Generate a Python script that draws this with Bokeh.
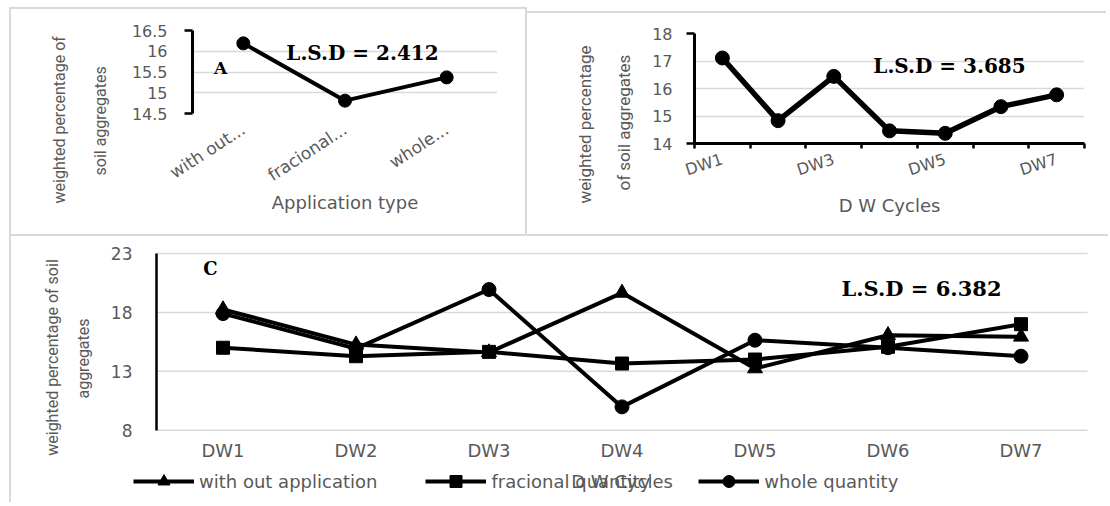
import math
from bokeh.plotting import figure
from bokeh.models import Range1d, FactorRange, FixedTicker, Label, Legend, LegendItem, Title
from bokeh.layouts import column, row
from bokeh.embed import file_html
from bokeh.resources import INLINE

# ---------------- data ----------------
# Panel A
a_categories = ["with out...", "fracional...", "whole..."]
a_values = [16.19, 14.81, 15.37]
a_yticks = [14.5, 15, 15.5, 16, 16.5]
a_lsd = "L.S.D = 2.412"

# Panel B
b_categories = ["DW1", "DW2", "DW3", "DW4", "DW5", "DW6", "DW7"]
b_values = [17.11, 14.83, 16.44, 14.46, 14.37, 15.34, 15.77]
b_yticks = [14, 15, 16, 17, 18]
b_shown = ["DW1", "DW3", "DW5", "DW7"]
b_lsd = "L.S.D = 3.685"

# Panel C
c_categories = ["DW1", "DW2", "DW3", "DW4", "DW5", "DW6", "DW7"]
c_without = [18.25, 15.27, 14.6, 19.66, 13.24, 16.06, 15.93]
c_fractional = [15.0, 14.28, 14.65, 13.66, 14.0, 15.08, 17.0]
c_whole = [17.9, 14.93, 19.94, 9.98, 15.64, 15.0, 14.28]
c_yticks = [8, 13, 18, 23]
c_series = ["with out application", "fracional quantity", "whole quantity"]
c_lsd = "L.S.D = 6.382"

GRID = "#d9d9d9"
TXT = "#595959"
SANS = "DejaVu Sans"
NARROW = "Roboto"
SERIF = "DejaVu Serif"
BORDER = "2px solid #d9d9d9"


def make_fig(w, h, xr, yr, left, right, top, bottom):
    p = figure(width=w, height=h, x_range=xr, y_range=yr, output_backend="svg",
               toolbar_location=None, title=None,
               min_border_left=left, min_border_right=right,
               min_border_top=top, min_border_bottom=bottom)
    p.frame_align = False
    p.outline_line_color = None
    p.background_fill_color = "white"
    p.border_fill_color = "white"
    p.xgrid.visible = False
    p.ygrid.grid_line_color = GRID
    p.ygrid.grid_line_width = 1.5
    for ax in (p.xaxis[0], p.yaxis[0]):
        ax.major_label_text_color = TXT
        ax.major_label_text_font = SANS
        ax.minor_tick_line_color = None
        ax.axis_label_text_color = TXT
        ax.axis_label_text_font = SANS
        ax.axis_label_text_font_style = "normal"
    return p


def inner_label(p, x, y, text, size, font=SERIF, color="black", style="bold", angle=0.0):
    p.add_layout(Label(x=x, y=y, x_units="screen", y_units="screen", text=text,
                       text_font=font, text_font_size=size, text_color=color,
                       text_font_style=style, angle=angle,
                       text_align="center", text_baseline="middle"))


def vtitle(p, text, size, offset, standoff):
    p.add_layout(Title(text=text, align="left", offset=offset, standoff=standoff,
                       text_font=NARROW, text_font_size=size, text_color=TXT,
                       text_font_style="normal"), "left")


# ---------------- Panel A ----------------
pa = make_fig(518, 227, FactorRange(factors=a_categories), Range1d(14.5, 16.5), 181, 32, 21, 123)
pa.margin = (7, 0, 0, 9)
pa.styles = {"border-left": BORDER, "border-top": BORDER, "border-right": BORDER}
pa.line(x=a_categories, y=a_values, line_width=4, color="black")
pa.scatter(x=a_categories, y=a_values, size=13, color="black")
ya = pa.yaxis[0]
ya.ticker = FixedTicker(ticks=a_yticks, minor_ticks=[a_yticks[0], a_yticks[-1]])
ya.major_label_overrides = {t: f"{t:g}" for t in a_yticks}
ya.major_tick_line_color = None
ya.major_tick_out = 8
ya.minor_tick_out = 8
ya.minor_tick_in = 0
ya.minor_tick_line_color = "black"
ya.minor_tick_line_width = 2.5
ya.axis_line_color = "black"
ya.axis_line_width = 3
ya.major_label_standoff = 17
ya.major_label_text_font_size = "16px"
pa.ygrid.ticker = FixedTicker(ticks=a_yticks)
xa = pa.xaxis[0]
xa.axis_line_color = None
xa.major_tick_line_color = None
xa.major_label_orientation = math.radians(33)
xa.major_label_standoff = 8
xa.major_label_text_font_size = "17px"
xa.axis_label = "Application type"
xa.axis_label_text_font_size = "18px"
xa.axis_label_standoff = -4
vtitle(pa, "soil aggregates", "16px", -62, 38)
vtitle(pa, "weighted percentage of", "16px", -90, 2)
inner_label(pa, 28, 46, "A", "17px")
inner_label(pa, 170, 61, a_lsd, "20px")

# ---------------- Panel B ----------------
pb = make_fig(579, 223, Range1d(0, len(b_categories)), Range1d(14, 18), 167, 22, 20, 93)
pb.margin = (11, 0, 0, 0)
pb.styles = {"border-top": BORDER}
b_x = [i + 0.5 for i in range(len(b_categories))]
pb.line(x=b_x, y=b_values, line_width=5.5, color="black")
pb.scatter(x=b_x, y=b_values, size=14, color="black")
yb = pb.yaxis[0]
yb.ticker = FixedTicker(ticks=b_yticks, minor_ticks=[b_yticks[0], b_yticks[-1]])
yb.major_tick_line_color = None
yb.major_tick_out = 8
yb.minor_tick_out = 8
yb.minor_tick_in = 0
yb.minor_tick_line_color = "black"
yb.minor_tick_line_width = 2.5
yb.axis_line_color = "black"
yb.axis_line_width = 3
yb.major_label_standoff = 14
yb.major_label_text_font_size = "16px"
pb.ygrid.ticker = FixedTicker(ticks=b_yticks)
xb = pb.xaxis[0]
shown_pos = [i + 0.5 for i, c in enumerate(b_categories) if c in b_shown]
xb.ticker = FixedTicker(ticks=shown_pos, minor_ticks=list(range(len(b_categories) + 1)))
xb.major_label_overrides = {i + 0.5: c for i, c in enumerate(b_categories) if c in b_shown}
xb.major_tick_line_color = None
xb.major_tick_out = 5
xb.minor_tick_out = 5
xb.minor_tick_in = 0
xb.minor_tick_line_color = "black"
xb.minor_tick_line_width = 2.5
xb.axis_line_color = "black"
xb.axis_line_width = 3
xb.major_label_orientation = math.radians(18)
xb.major_label_standoff = 10
xb.major_label_text_font_size = "16px"
xb.axis_label = "D W Cycles"
xb.axis_label_text_font_size = "18px"
xb.axis_label_standoff = 4
vtitle(pb, "of soil aggregates", "17px", -47, 31)
vtitle(pb, "weighted percentage", "17px", -60, 4)
inner_label(pb, 255, 78, b_lsd, "20px")

# ---------------- Panel C ----------------
# the frame fills the whole canvas; axes are pinned inside it with fixed_location
C_W, C_H = 1099, 268
C_AXIS_X, C_TOP_Y = 145, 17          # canvas px of the y axis / of the top gridline
n_c = len(c_categories)
c_px_per_cat = (1076 - C_AXIS_X) / n_c
c_px_per_unit = 176.7 / (c_yticks[-1] - c_yticks[0])
c_xr = Range1d(-C_AXIS_X / c_px_per_cat, (C_W - C_AXIS_X) / c_px_per_cat)
c_yr = Range1d(c_yticks[-1] - (C_H - C_TOP_Y) / c_px_per_unit, c_yticks[-1] + C_TOP_Y / c_px_per_unit)
pc = make_fig(C_W, C_H, c_xr, c_yr, 0, 0, 0, 0)
pc.margin = (0, 0, 0, 9)
pc.styles = {"border-left": BORDER, "border-top": BORDER}
pc.ygrid.visible = False
# horizontal gridlines spanning the category area only
pc.segment(x0=[0] * len(c_yticks), x1=[n_c] * len(c_yticks), y0=c_yticks, y1=c_yticks,
           line_color=GRID, line_width=1.5)
c_x = [i + 0.5 for i in range(n_c)]
l1 = pc.line(x=c_x, y=c_without, line_width=4, color="black")
s1 = pc.scatter(x=c_x, y=c_without, marker="triangle", size=15, color="black")
l2 = pc.line(x=c_x, y=c_fractional, line_width=4, color="black")
s2 = pc.scatter(x=c_x, y=c_fractional, marker="square", size=13, color="black")
l3 = pc.line(x=c_x, y=c_whole, line_width=4, color="black")
s3 = pc.scatter(x=c_x, y=c_whole, size=14, color="black")
yc = pc.yaxis[0]
yc.fixed_location = 0
yc.ticker = FixedTicker(ticks=c_yticks)
yc.bounds = (c_yticks[0], c_yticks[-1])
yc.major_tick_line_color = None
yc.major_tick_out = 0
yc.axis_line_color = "black"
yc.axis_line_width = 2.5
yc.major_label_standoff = 24
yc.major_label_text_font_size = "17px"
xc = pc.xaxis[0]
xc.fixed_location = c_yticks[0]
xc.bounds = (0, n_c)
xc.ticker = FixedTicker(ticks=c_x)
xc.major_label_overrides = {x: c for x, c in zip(c_x, c_categories)}
xc.axis_line_color = None
xc.major_tick_line_color = None
xc.major_tick_out = 0
xc.major_label_standoff = 10
xc.major_label_text_font_size = "18px"
xc.axis_label = "D W Cycles"
xc.axis_label_text_font_size = "18px"
xc.axis_label_standoff = 6
# texts positioned in px from the frame's bottom-left corner
inner_label(pc, 41, 147, "weighted percentage of soil", "16px", font=NARROW, color=TXT,
            style="normal", angle=math.pi / 2)
inner_label(pc, 72, 146, "aggregates", "16px", font=NARROW, color=TXT, style="normal",
            angle=math.pi / 2)
inner_label(pc, 199, 236, "C", "18px")
inner_label(pc, 910, 216, c_lsd, "21px")

legend = Legend(items=[LegendItem(label=c_series[0], renderers=[l1, s1]),
                       LegendItem(label=c_series[1], renderers=[l2, s2]),
                       LegendItem(label=c_series[2], renderers=[l3, s3])],
                orientation="horizontal", location=(122, 8), glyph_width=61, glyph_height=30,
                label_standoff=5, spacing=48, padding=0, margin=0, border_line_color=None,
                background_fill_alpha=0, label_text_font=SANS, label_text_font_size="18px",
                label_text_color=TXT, label_height=20)
pc.add_layout(legend, "center")

layout = column(row(pa, pb, spacing=0), pc, spacing=0)
open("out.html", "w").write(file_html(layout, INLINE))
